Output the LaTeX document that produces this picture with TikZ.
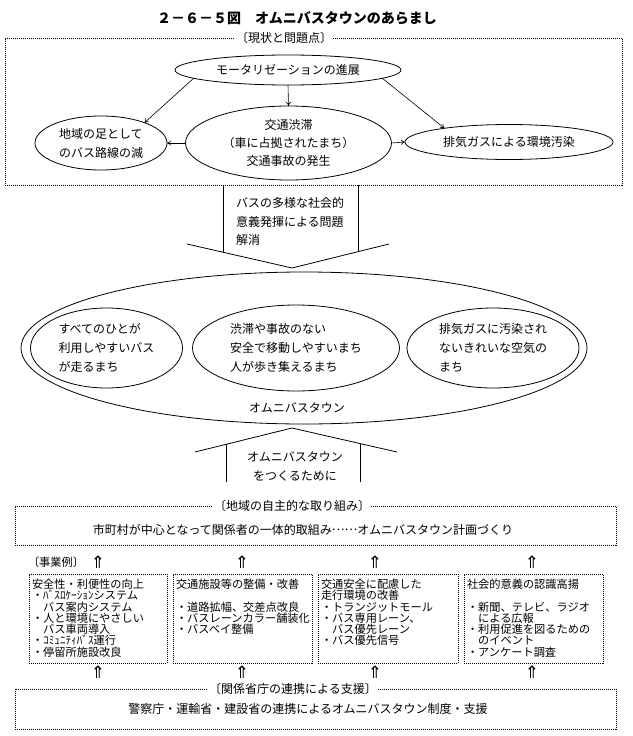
\documentclass[tikz,border=0pt]{standalone}
\usepackage{fontspec}
\setmainfont{Noto Sans CJK JP}
\newfontfamily\symfont{DejaVu Sans}
\usetikzlibrary{shapes.geometric,arrows.meta}
\begin{document}
\begin{tikzpicture}[x=1pt,y=-1pt,
  every node/.style={inner sep=0pt,outer sep=0pt},
  titletxt/.style={font=\fontsize{14}{16}\selectfont\bfseries},
  txt/.style={font=\fontsize{12}{19}\selectfont},
  boxtxt/.style={font=\fontsize{11.2}{11.3}\selectfont,align=left,anchor=north west},
  oval/.style={draw,ellipse,line width=0.8pt,font=\fontsize{12}{19}\selectfont,align=left},
  dotbox/.style={draw,line width=0.8pt,dash pattern=on 1pt off 1pt,anchor=north west},
  lbl/.style={fill=white,inner xsep=1pt,font=\fontsize{12}{14}\selectfont},
  conn/.style={line width=0.6pt,-{To[length=4pt,width=5pt]}},
  solidln/.style={line width=0.8pt},
  uparr/.style={font=\symfont\fontsize{17}{18}\selectfont}
]
\useasboundingbox (0,0) rectangle (632,736);
\fill[white] (0,0) rectangle (632,736);

% title
\node[titletxt] (title) at (297,18) {２－６－５図　オムニバスタウンのあらまし};

% top box
\node[dotbox,minimum width=617,minimum height=147] (topbox) at (5,38) {};
\node[lbl] (toplbl) at (284,38) {〔現状と問題点〕};

\node[oval,minimum width=226,minimum height=30] (motor) at (288,70) {モータリゼーションの進展};
\node[oval,minimum width=132,minimum height=54] (ashi) at (101,143) {地域の足として\\のバス路線の減};
\node[oval,align=center,minimum width=206,minimum height=74,font=\fontsize{12}{18}\selectfont] (jutai) at (288.5,143) {交通渋滞\\（車に占拠されたまち）\\交通事故の発生};
\node[oval,minimum width=208,minimum height=35] (haiki) at (509,142) {排気ガスによる環境汚染};

\draw[conn] (motor.185) -- (ashi.25);
\draw[conn] (motor.south) -- (jutai.north);
\draw[conn] (motor.355) -- (haiki.168);
\draw[conn] (jutai.west) -- (ashi.east);
\draw[conn] (jutai.east) -- (haiki.west);

% upper block arrow
\draw[solidln] (223,185) -- (223,252.2);
\draw[solidln] (358,185) -- (358,251.7);
\draw[solidln] (187,244) -- (292,268) -- (389,244);
\node[txt,align=left,anchor=west,font=\fontsize{12}{18.5}\selectfont] (kaisho) at (236,221.5) {バスの多様な社会的\\意義発揮による問題\\解消};

% big ellipse
\node[draw,ellipse,line width=0.8pt,minimum width=566,minimum height=152] (omni) at (304,348) {};
\node[oval,minimum width=152,minimum height=80] (subete) at (106.5,348) {すべてのひとが\\利用しやすいバス\\が走るまち};
\node[oval,minimum width=207,minimum height=86] (anzen) at (296,348) {渋滞や事故のない\\安全で移動しやすいまち\\人が歩き集えるまち};
\node[oval,minimum width=172,minimum height=80] (kirei) at (493,348) {排気ガスに汚染され\\ないきれいな空気の\\まち};
\node[txt] (omnilbl) at (297,408) {オムニバスタウン};

% lower block arrow
\draw[solidln] (195,452) -- (292,428) -- (397,452);
\draw[solidln] (226,444.3) -- (226,482);
\draw[solidln] (360,443.5) -- (360,482);
\node[txt,align=center] (tsukuru) at (295,466.5) {オムニバスタウン\\をつくるために};

% local box
\node[dotbox,minimum width=601,minimum height=39] (localbox) at (15,506) {};
\node[lbl] (locallbl) at (292,506) {〔地域の自主的な取り組み〕};
\node[txt] (localtxt) at (303,530) {市町村が中心となって関係者の一体的取組み\raisebox{0.33em}{……}オムニバスタウン計画づくり};

% examples
\node[font=\fontsize{11.2}{12}\selectfont,anchor=west] (jigyo) at (28,562) {〔事業例〕};
\node[uparr] (ua1) at (98,562) {⇑};
\node[uparr] (ua2) at (242,562) {⇑};
\node[uparr] (ua3) at (375,562) {⇑};
\node[uparr] (ua4) at (532,562) {⇑};

\node[dotbox,minimum width=138,minimum height=89] (b1) at (29,574) {};
\node[dotbox,minimum width=139,minimum height=89] (b2) at (173,574) {};
\node[dotbox,minimum width=140,minimum height=89] (b3) at (318,574) {};
\node[dotbox,minimum width=139,minimum height=89] (b4) at (464,574) {};

\node[boxtxt] (t1) at ([xshift=3pt,yshift=-5pt]b1.north west) {安全性・利便性の向上\\・ﾊﾞｽﾛｹｰｼｮﾝシステム\\　バス案内システム\\・人と環境にやさしい\\　バス車両導入\\・ｺﾐｭﾆﾃｨﾊﾞｽ運行\\・停留所施設改良};
\node[boxtxt] (t2) at ([xshift=3pt,yshift=-5pt]b2.north west) {交通施設等の整備・改善\\[11.3pt]・道路拡幅、交差点改良\\・バスレーンカラー舗装化\\・バスベイ整備};
\node[boxtxt] (t3) at ([xshift=3pt,yshift=-5pt]b3.north west) {交通安全に配慮した\\走行環境の改善\\・トランジットモール\\・バス専用レーン、\\　バス優先レーン\\・バス優先信号};
\node[boxtxt] (t4) at ([xshift=3pt,yshift=-5pt]b4.north west) {社会的意義の認識高揚\\[11.3pt]・新聞、テレビ、ラジオ\\　による広報\\・利用促進を図るための\\　のイベント\\・アンケート調査};

\node[uparr] (da1) at (98,672) {⇑};
\node[uparr] (da2) at (242,672) {⇑};
\node[uparr] (da3) at (375,672) {⇑};
\node[uparr] (da4) at (532,672) {⇑};

% support box
\node[dotbox,minimum width=601,minimum height=40] (supbox) at (15,689) {};
\node[lbl] (suplbl) at (293,689) {〔関係省庁の連携による支援〕};
\node[txt] (suptxt) at (308,709) {警察庁・運輸省・建設省の連携によるオムニバスタウン制度・支援};
\end{tikzpicture}
\end{document}
